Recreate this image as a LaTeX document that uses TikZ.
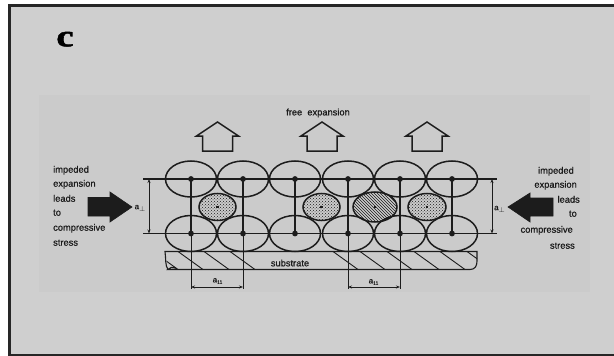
\documentclass[tikz,border=0pt]{standalone}
\usepackage{fontspec}
\newfontfamily\labfont[FakeBold=0.9]{Liberation Sans}
\newfontfamily\letterfont[BoldFeatures={FakeBold=1.5}]{Liberation Serif}
\usetikzlibrary{shapes.geometric,patterns,arrows.meta,calc}
\definecolor{paper}{HTML}{CFCFCF}
\definecolor{photo}{HTML}{CBCBCB}
\definecolor{ink}{HTML}{1C1C1C}
\definecolor{frame}{HTML}{262626}

\begin{document}
\begin{tikzpicture}[x=1pt,y=-1pt,
  grain/.style={ellipse, draw=ink, line width=1.5pt, minimum width=51pt,
    minimum height=36pt, inner sep=0pt},
  dotgrain/.style={ellipse, draw=ink, line width=1.5pt, inner sep=0pt,
    pattern=crosshatch dots, pattern color=ink},
  hatchgrain/.style={ellipse, draw=ink, line width=1.5pt, inner sep=0pt,
    pattern=north west lines, pattern color=ink},
  bond/.style={draw=ink, line width=1.1pt},
  dimline/.style={draw=ink, line width=0.7pt},
  dimarrow/.style={dimline, {Stealth[length=4pt,width=3pt]}-{Stealth[length=4pt,width=3pt]}},
  label/.style={font=\labfont\fontsize{9.3}{11}\selectfont, text=ink, inner sep=0pt},
  dimlabel/.style={font=\labfont\fontsize{8}{9}\selectfont, text=ink, inner sep=0pt},
  blockarrow/.style={fill=ink, draw=ink, line width=0.6pt, line join=miter},
  freearrow/.style={draw=ink, line width=1.5pt, line join=miter, fill=none},
]
\useasboundingbox (0,0) rectangle (614,356);

% slide background and frame
\fill[white] (0,0) rectangle (614,356);
\fill[paper] (8,5) rectangle (614,356);
\fill[photo] (39,95) rectangle (590,292);
\draw[frame, line width=3pt] (9.5,356) -- (9.5,5.5) -- (614,5.5);
\draw[frame, line width=2.5pt] (8,354.8) -- (614,354.8);

% panel letter
\node[inner sep=0pt, font=\letterfont\fontsize{31}{31}\selectfont\bfseries] (panel) at (65,39.2)
  {\scalebox{1.25}[1]{c}};

% substrate with break line on the left and rounded right end
\draw[ink, line width=1.1pt]
  (168,269.5) .. controls (165,266) and (166,258) .. (165,251.5)
  -- (477,251.5) -- (477,261) .. controls (477,266) and (475,269.5) .. (470,269.5)
  -- (168,269.5) .. controls (170,267) and (172,267) .. (176,268);
\begin{scope}
  \clip (165,251.5) -- (477,251.5) -- (477,261) .. controls (477,266) and (475,269.5) .. (470,269.5) -- (168,269.5) -- cycle;
  \foreach \s in {153,178,204,230,333,360,387,414,440,467}
    \draw[ink, line width=0.9pt] (\s,251.5) -- (\s+25,269.5);
\end{scope}
\node[label] (substrate) at (290,263) {substrate};

% lattice grains
\foreach \i/\x in {1/191,2/243,3/295,4/348,5/400,6/452} {
  \node[grain] (t\i) at (\x,179) {};
  \node[grain] (b\i) at (\x,233.5) {};
}
\node[dotgrain, minimum width=37pt, minimum height=27pt] (m1) at (217.5,207) {};
\node[dotgrain, minimum width=37pt, minimum height=27pt] (m2) at (321.5,207) {};
\node[hatchgrain, minimum width=44pt, minimum height=30pt] (m3) at (375,207) {};
\node[dotgrain, minimum width=38pt, minimum height=27pt] (m4) at (427,207) {};
\foreach \m in {m1,m2,m3,m4}
  \fill[ink] ($(\m.center)+(-1.4,-1.4)$) rectangle ($(\m.center)+(1.4,1.4)$);

% bonds between grain centres
\coordinate (tl) at (143,179);
\coordinate (tr) at (497,179);
\coordinate (bl) at (143,233.5);
\coordinate (br) at (497,233.5);
\draw[bond] (tl) -- (tr);
\draw[bond] (bl) -- (br);
\foreach \i in {1,...,6} {
  \draw[bond] (t\i.center) -- (b\i.center);
  \fill[ink] (t\i.center) circle (2.9);
  \fill[ink] (b\i.center) circle (2.9);
}

% perpendicular spacing
\coordinate (dl1) at (149,179);
\coordinate (dl2) at (149,233.5);
\draw[dimarrow] (dl1) -- (dl2);
\node[dimlabel] (aperpl) at (140,208) {a\raisebox{-2pt}{\scriptsize$\perp$}};
\coordinate (dr1) at (492,179);
\coordinate (dr2) at (492,233.5);
\draw[dimarrow] (dr1) -- (dr2);
\node[dimlabel] (aperpr) at (499.5,209) {a\raisebox{-2pt}{\scriptsize$\perp$}};

% parallel spacing
\coordinate (pl1) at (191,288.5);
\coordinate (pl2) at (243,288.5);
\draw[dimline] (b1.center) -- (pl1);
\draw[dimline] (b2.center) -- (pl2);
\draw[dimarrow] ($(pl1)+(0,-1.5)$) -- ($(pl2)+(0,-1.5)$);
\node[dimlabel] (aparl) at (217.5,281) {a\raisebox{-1.5pt}{\tiny 11}};
\coordinate (pr1) at (348,288.5);
\coordinate (pr2) at (400,288.5);
\draw[dimline] (b4.center) -- (pr1);
\draw[dimline] (b5.center) -- (pr2);
\draw[dimarrow] ($(pr1)+(0,-1.5)$) -- ($(pr2)+(0,-1.5)$);
\node[dimlabel] (aparr) at (373.5,282) {a\raisebox{-1.5pt}{\tiny 11}};

% free expansion arrows
\node[label] (free) at (318,113) {free\ \ expansion};
\foreach \x in {217.5,322,427}
  \draw[freearrow] (\x-15,151) -- (\x-15,136) -- (\x-21,136) -- (\x,122)
    -- (\x+21,136) -- (\x+15,136) -- (\x+15,151) -- cycle;

% compressive pushes from both sides
\draw[blockarrow] (88,197.5) -- (110,197.5) -- (110,192) -- (132,207)
  -- (110,222) -- (110,216) -- (88,216) -- cycle;
\draw[blockarrow] (553,198) -- (530,198) -- (530,193) -- (508,207)
  -- (530,222) -- (530,216) -- (553,216) -- cycle;

% side captions
\node[label, anchor=base west] (l1) at (53,172.7) {impeded};
\node[label, anchor=base west] (l2) at (53,186.7) {expansion};
\node[label, anchor=base west] (l3) at (53,201.7) {leads};
\node[label, anchor=base west] (l4) at (53,215.7) {to};
\node[label, anchor=base west] (l5) at (53,230.7) {compressive};
\node[label, anchor=base west] (l6) at (53,245.7) {stress};
\node[label, anchor=base east] (r1) at (574,173.7) {impeded};
\node[label, anchor=base east] (r2) at (577,187.7) {expansion};
\node[label, anchor=base east] (r3) at (580,202.7) {leads};
\node[label, anchor=base east] (r4) at (577,216.7) {to};
\node[label, anchor=base east] (r5) at (573,232.7) {compressive};
\node[label, anchor=base east] (r6) at (575,248.7) {stress};
\end{tikzpicture}
\end{document}
